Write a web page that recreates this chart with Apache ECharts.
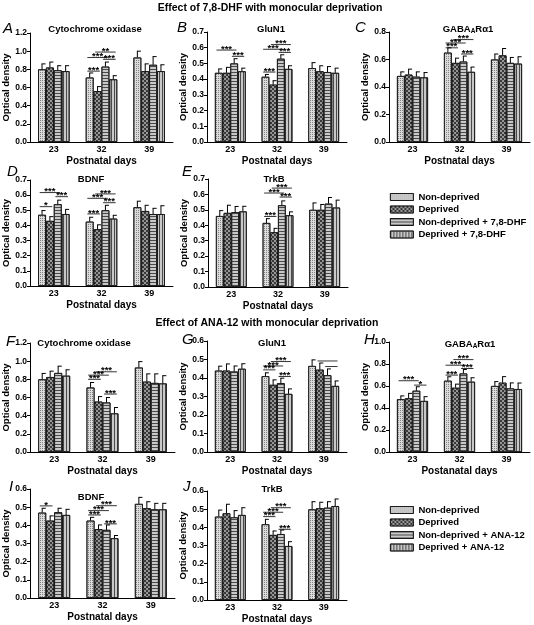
<!DOCTYPE html>
<html><head><meta charset="utf-8">
<script src="https://cdn.jsdelivr.net/npm/echarts@6/dist/echarts.min.js"></script>
<style>html,body{margin:0;padding:0;background:#fff}#c{width:534px;height:625px}</style>
</head><body><div id="c"></div><script>
const days = ['23','32','39'];
const namesDHF = ['Non-deprived','Deprived','Non-deprived + 7,8-DHF','Deprived + 7,8-DHF'];
const namesANA = ['Non-deprived','Deprived','Non-deprived + ANA-12','Deprived + ANA-12'];

// each array: one row per group (series), values for P23, P32, P39
const A_mean = [[0.80,0.71,0.93],[0.82,0.56,0.78],[0.79,0.83,0.85],[0.78,0.69,0.78]];
const A_err  = [[0.06,0.05,0.07],[0.06,0.05,0.08],[0.05,0.05,0.09],[0.06,0.04,0.07]];
const A_sig  = [[1,0,1,0.78,'***'],[1,0,2,0.93,'***'],[1,1,3,0.99,'**'],[1,2,3,0.91,'***']];

const B_mean = [[0.44,0.415,0.47],[0.44,0.365,0.45],[0.50,0.53,0.445],[0.45,0.465,0.44]];
const B_err  = [[0.025,0.015,0.035],[0.035,0.025,0.035],[0.03,0.025,0.035],[0.02,0.02,0.03]];
const B_sig  = [[0,0,2,0.585,'***'],[0,2,3,0.545,'***'],[1,0,1,0.445,'***'],[1,0,2,0.59,'***'],[1,1,3,0.62,'***'],[1,2,3,0.57,'***']];

const C_mean = [[0.48,0.65,0.60],[0.49,0.575,0.63],[0.475,0.585,0.575],[0.47,0.51,0.57]];
const C_err  = [[0.03,0.035,0.04],[0.04,0.035,0.05],[0.035,0.04,0.04],[0.035,0.035,0.05]];
const C_sig  = [[1,0,1,0.685,'***'],[1,0,2,0.72,'***'],[1,1,3,0.745,'***'],[1,2,3,0.64,'***']];

const D_mean = [[0.47,0.425,0.52],[0.43,0.375,0.495],[0.54,0.50,0.475],[0.475,0.445,0.475]];
const D_err  = [[0.028,0.029,0.04],[0.028,0.029,0.038],[0.027,0.033,0.038],[0.031,0.022,0.055]];
const D_sig  = [[0,0,1,0.524,'*'],[0,0,2,0.617,'***'],[0,2,3,0.59,'***'],[1,0,1,0.476,'***'],[1,0,2,0.579,'***'],[1,1,3,0.608,'***'],[1,2,3,0.55,'***']];

const E_mean = [[0.46,0.415,0.50],[0.48,0.355,0.50],[0.485,0.53,0.54],[0.49,0.465,0.515]];
const E_err  = [[0.035,0.028,0.045],[0.05,0.025,0.035],[0.037,0.028,0.04],[0.033,0.022,0.048]];
const E_sig  = [[1,0,1,0.457,'***'],[1,0,2,0.609,'***'],[1,1,3,0.641,'***'],[1,2,3,0.583,'***']];

const F_mean = [[0.80,0.71,0.93],[0.825,0.555,0.775],[0.87,0.545,0.76],[0.84,0.425,0.755]];
const F_err  = [[0.065,0.055,0.065],[0.065,0.055,0.085],[0.075,0.055,0.1],[0.065,0.065,0.085]];
const F_sig  = [[1,0,1,0.80,'***'],[1,0,2,0.846,'***'],[1,1,3,0.883,'***'],[1,2,3,0.638,'***']];

const G_mean = [[0.44,0.41,0.465],[0.44,0.363,0.445],[0.435,0.372,0.415],[0.45,0.314,0.357]];
const G_err  = [[0.024,0.018,0.033],[0.036,0.027,0.036],[0.03,0.027,0.034],[0.027,0.027,0.027]];
const G_sig  = [[1,0,1,0.444,'***'],[1,0,2,0.465,'***'],[1,1,3,0.489,'***'],[1,2,3,0.408,'***'],[2,1,3,0.492,''],[2,2,3,0.462,'']];

const H_mean = [[0.48,0.648,0.60],[0.488,0.584,0.63],[0.557,0.714,0.578],[0.464,0.639,0.572]];
const H_err  = [[0.03,0.036,0.04],[0.045,0.033,0.055],[0.036,0.036,0.05],[0.039,0.036,0.055]];
const H_sig  = [[0,0,2,0.648,'***'],[0,2,3,0.608,'*'],[1,0,1,0.699,'***'],[1,0,2,0.789,'***'],[1,1,3,0.84,'***'],[1,2,3,0.759,'***']];

const I_mean = [[0.47,0.426,0.518],[0.426,0.379,0.494],[0.472,0.375,0.488],[0.457,0.329,0.488]];
const I_err  = [[0.024,0.018,0.036],[0.026,0.023,0.036],[0.022,0.027,0.033],[0.031,0.015,0.033]];
const I_sig  = [[0,0,1,0.507,'*'],[1,0,1,0.457,'***'],[1,0,2,0.481,'***'],[1,1,3,0.508,'***'],[1,2,3,0.408,'***']];

const J_mean = [[0.459,0.417,0.499],[0.477,0.358,0.505],[0.455,0.363,0.508],[0.468,0.297,0.517]];
const J_err  = [[0.036,0.027,0.042],[0.05,0.022,0.033],[0.037,0.022,0.033],[0.04,0.024,0.039]];
const J_sig  = [[1,0,1,0.459,'***'],[1,0,2,0.483,'***'],[1,1,3,0.508,'***'],[1,2,3,0.389,'***']];

const panelTitles = ['Cytochrome oxidase','GluN1','GABA{s|A}Rα1','BDNF','TrkB','Cytochrome oxidase','GluN1','GABA{s|A}Rα1','BDNF','TrkB'];
const letters = ['A','B','C','D','E','F','G','H','I','J'];
const yMax = [1.2,0.7,0.8,0.7,0.7,1.2,0.6,1.0,0.6,0.6];
const yStep = [0.2,0.1,0.2,0.1,0.1,0.2,0.1,0.2,0.1,0.1];
const xNames = ['Postnatal days','Postnatal days','Postnatal days','Postnatal days','Postnatal days','Postnatal days','Postnatal days','Postanatal days','Postnatal days','Postnatal days'];
const mainTitles = ['Effect of 7,8-DHF with monocular deprivation','Effect of ANA-12 with monocular deprivation'];

const data = [
  [A_mean,A_err,A_sig],[B_mean,B_err,B_sig],[C_mean,C_err,C_sig],[D_mean,D_err,D_sig],[E_mean,E_err,E_sig],
  [F_mean,F_err,F_sig],[G_mean,G_err,G_sig],[H_mean,H_err,H_sig],[I_mean,I_err,I_sig],[J_mean,J_err,J_sig]
];

// layout (pixels)
const L = [
  {l:28,t:33,r:173,b:142},{l:207,t:32,r:347,b:142},{l:389,t:32,r:530,b:142},
  {l:28,t:180,r:173,b:286},{l:208,t:179,r:348,b:287},
  {l:29,t:343,r:175,b:452},{l:207,t:341,r:347,b:452},{l:389,t:342,r:530,b:452},
  {l:29,t:489,r:175,b:598},{l:207,t:491,r:347,b:600}
];
const titlePos = [[95,29],[271,29],[468,29],[91,179],[274,179],[84,343],[272,343],[470,344],[91,497],[272,489]];
const letterPos = [[3,29],[177,28],[355,28],[7,172],[182,172],[6,342],[182,340],[364,340],[9,487],[183,487]];

const FF = '"Liberation Sans", Arial, sans-serif';
const GAP = 0.34;

const styles = [
  {color:'#dcdcdc', decal:{symbol:'rect', symbolSize:1, color:'#808080', dashArrayX:[1,1], dashArrayY:[1,1]}},
  {color:'#3a3a3a', decal:{symbol:'diamond', symbolSize:1, color:'#f2f2f2', dashArrayX:[[2,2],[0,2,2,0]], dashArrayY:[2,0]}},
  {color:'#c8c8c8', decal:{symbol:'rect', symbolSize:1, color:'#4a4a4a', dashArrayX:[1,0], dashArrayY:[1,1.4]}},
  {color:'#c8c8c8', decal:{symbol:'rect', symbolSize:1, color:'#4a4a4a', dashArrayX:[1,1.4], dashArrayY:[1,0]}}
];

const grid = [], xAxis = [], yAxis = [], series = [], graphic = [];
data.forEach((d, p) => {
  const [mean, err, sig] = d;
  const g = L[p];
  grid.push({left:g.l, top:g.t, width:g.r-g.l, height:g.b-g.t, containLabel:false});
  xAxis.push({type:'category', gridIndex:p, data:days,
    axisLine:{lineStyle:{color:'#000', width:1}}, axisTick:{show:false},
    axisLabel:{fontSize:9, fontWeight:'bold', color:'#000', margin:3, fontFamily:FF},
    name:xNames[p], nameLocation:'middle', nameGap:14,
    nameTextStyle:{fontSize:10, fontWeight:'bold', color:'#000', fontFamily:FF}});
  yAxis.push({type:'value', gridIndex:p, min:0, max:yMax[p], interval:yStep[p],
    axisLine:{show:true, lineStyle:{color:'#000', width:1}},
    axisTick:{show:true, length:3, lineStyle:{color:'#000'}},
    splitLine:{show:false},
    axisLabel:{fontSize:8.5, fontWeight:'bold', color:'#000', margin:3, fontFamily:FF, formatter:v=>v.toFixed(1)},
    name:'Optical density', nameLocation:'middle', nameRotate:90, nameGap:19,
    nameTextStyle:{fontSize:9.5, fontWeight:'bold', color:'#000', fontFamily:FF}});
  const names = p < 5 ? namesDHF : namesANA;
  for (let s = 0; s < 4; s++) {
    series.push({type:'bar', name:names[s], xAxisIndex:p, yAxisIndex:p, data:mean[s],
      barGap:'0%', barCategoryGap:(GAP*100)+'%', animation:false,
      itemStyle:{color:styles[s].color, decal:styles[s].decal, borderColor:'#111', borderWidth:0.8}});
  }
  const errData = [];
  for (let s = 0; s < 4; s++) for (let c = 0; c < 3; c++) errData.push([c, mean[s][c], err[s][c], s]);
  series.push({type:'custom', xAxisIndex:p, yAxisIndex:p, data:errData, z:5, animation:false, silent:true,
    encode:{x:0, y:1},
    renderItem:(params, api) => {
      const c = api.value(0), m = api.value(1), e = api.value(2), s = api.value(3);
      const band = api.size([1,0])[0];
      const bw = band*(1-GAP)/4;
      const cx = api.coord([c,0])[0] - 2*bw + (s+0.5)*bw;
      const y0 = api.coord([c,m])[1], y1 = api.coord([c,m+e])[1];
      return {type:'group', children:[
        {type:'line', shape:{x1:cx,y1:y0,x2:cx,y2:y1}, style:{stroke:'#000', lineWidth:1}},
        {type:'line', shape:{x1:cx-0.5,y1:y1,x2:cx+bw*0.45,y2:y1}, style:{stroke:'#000', lineWidth:1}}
      ]};
    }});
  const sigData = sig.map(q => [q[0], q[1], q[2], q[3]]);
  series.push({type:'custom', xAxisIndex:p, yAxisIndex:p, data:sigData, z:6, animation:false, silent:true,
    encode:{x:0, y:3},
    renderItem:(params, api) => {
      const c = api.value(0), b1 = api.value(1), b2 = api.value(2), v = api.value(3);
      const txt = sig[params.dataIndex][4];
      const band = api.size([1,0])[0];
      const bw = band*(1-GAP)/4;
      const base = api.coord([c,0])[0] - 2*bw;
      const xa = base + (b1+0.5)*bw - bw*0.3, xb = base + (b2+0.5)*bw + bw*0.3;
      const y = api.coord([c,v])[1];
      const ch = [{type:'line', shape:{x1:xa,y1:y,x2:xb,y2:y}, style:{stroke:'#000', lineWidth:0.8}}];
      if (txt) ch.push({type:'text', x:(xa+xb)/2, y:y+4, style:{text:txt, font:'bold 9.5px '+FF, align:'center', verticalAlign:'bottom', fill:'#000'}});
      return {type:'group', children:ch};
    }});
  graphic.push({type:'text', x:titlePos[p][0], y:titlePos[p][1], silent:true,
    style:{text:panelTitles[p], font:'bold 9.5px '+FF, fill:'#000', align:'center', verticalAlign:'middle',
      rich:{s:{fontSize:6.5, fontWeight:'bold', fontFamily:FF, verticalAlign:'bottom', padding:[5,0,0,0]}}}});
  graphic.push({type:'text', x:letterPos[p][0], y:letterPos[p][1], silent:true,
    style:{text:letters[p], font:'italic 15px '+FF, fill:'#000', align:'left', verticalAlign:'middle'}});
});
graphic.push({type:'text', x:270, y:8.5, silent:true, style:{text:mainTitles[0], font:'bold 10.5px '+FF, fill:'#000', align:'center', verticalAlign:'middle'}});
graphic.push({type:'text', x:267, y:323, silent:true, style:{text:mainTitles[1], font:'bold 10.5px '+FF, fill:'#000', align:'center', verticalAlign:'middle'}});

const legendCommon = {orient:'vertical', itemWidth:23, itemHeight:7, itemGap:0.5, icon:'rect',
  textStyle:{fontSize:9.5, fontWeight:'bold', color:'#000', fontFamily:FF, lineHeight:12},
  itemStyle:{borderColor:'#111', borderWidth:0.8}, selectedMode:false};

const option = {
  animation:false,
  backgroundColor:'#fff',
  grid, xAxis, yAxis, series, graphic,
  legend:[
    Object.assign({left:385, top:186, data:namesDHF}, legendCommon),
    Object.assign({left:385, top:499, data:namesANA}, legendCommon)
  ]
};
const chart = echarts.init(document.getElementById('c'), null, {renderer:'canvas'});
chart.setOption(option);
</script></body></html>
